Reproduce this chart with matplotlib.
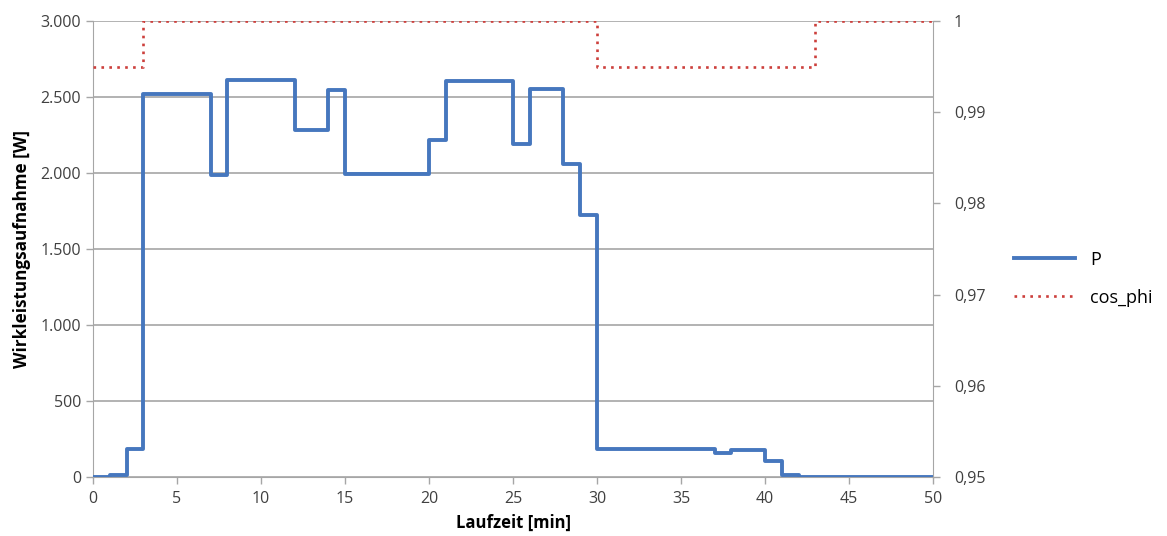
import matplotlib.pyplot as plt
import matplotlib.ticker as ticker
import numpy as np

plt.rcParams['font.family'] = ['Open Sans', 'DejaVu Sans']

# Step data: value holds from minute t to t+1
minutes = list(range(0, 51))
p_values = [3, 12, 182, 2518, 2518, 2518, 2518, 1990, 2610, 2610,
            2610, 2610, 2280, 2280, 2545, 1995, 1995, 1995, 1995, 1995,
            2215, 2604, 2604, 2604, 2604, 2190, 2550, 2550, 2060, 1725,
            185, 185, 185, 185, 185, 185, 185, 160, 180, 180,
            105, 13, 0, 0, 0, 0, 0, 0, 0, 0, 0]
cos_phi = [0.995, 0.995, 0.995] + [1.0] * 27 + [0.995] * 13 + [1.0] * 8

left_ticks = [0, 500, 1000, 1500, 2000, 2500, 3000]
right_ticks = [0.95, 0.96, 0.97, 0.98, 0.99, 1.0]
right_labels = ['0,95', '0,96', '0,97', '0,98', '0,99', '1']

fig, ax = plt.subplots(figsize=(11.67, 5.36), dpi=100)
fig.subplots_adjust(left=0.0797, right=0.7995, top=0.9608, bottom=0.110)
ax2 = ax.twinx()

blue = '#4677be'
red = '#cc3f3c'
grey = '#a6a6a6'

lp, = ax.step(minutes, p_values, where='post', color=blue, lw=2.8, label='P', zorder=3)
lc, = ax2.step(minutes, cos_phi, where='post', color=red, lw=1.9, ls=(0, (1, 2)), label='cos_phi')

ax.set_xlim(0, 50)
ax.set_ylim(0, 3000)
ax2.set_ylim(0.95, 1.0)
ax.set_xticks(range(0, 51, 5))
ax.set_yticks(left_ticks)
ax.yaxis.set_major_formatter(ticker.FuncFormatter(lambda v, p: format(int(v), ',').replace(',', '.')))
ax2.set_yticks(right_ticks)
ax2.set_yticklabels(right_labels)

ax.grid(axis='y', color=grey, lw=1.2)
ax.set_axisbelow(True)

for a in (ax, ax2):
    for s in a.spines.values():
        s.set_color(grey)
    a.spines['top'].set_visible(False)
    a.tick_params(colors='#404040', labelsize=11.5, length=5, color=grey, width=1)
ax2.tick_params(axis='y', pad=10)
ax.tick_params(axis='x', pad=5)
ax2.spines['left'].set_visible(False)
ax.spines['right'].set_visible(False)
ax2.spines['bottom'].set_visible(False)

ax.set_xlabel('Laufzeit [min]', fontsize=12, fontweight='bold', labelpad=5)
ax.set_ylabel('Wirkleistungsaufnahme [W]', fontsize=12.3, fontweight='bold', labelpad=7)

fig.legend(handles=[lp, lc], loc='center left', bbox_to_anchor=(0.855, 0.48),
           frameon=False, fontsize=13, handlelength=3.4, labelspacing=1.1)

fig.savefig('out.png', dpi=100)
